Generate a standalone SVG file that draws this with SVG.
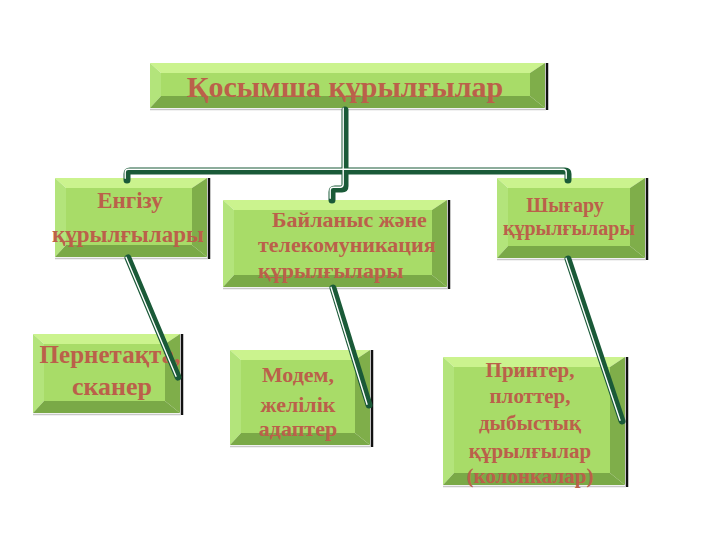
<svg xmlns="http://www.w3.org/2000/svg" width="720" height="540" viewBox="0 0 720 540">
<style>
.bt{fill:#cbf38e}.bl{fill:#b3e47b}.bf{fill:#a8dc68}.br{fill:#7fae4a}.bb{fill:#7aa947}
.sh{stroke:#111;stroke-width:2.5}
.gs{stroke:#c8c8c8;stroke-width:1.5}
text{font-family:"Liberation Serif","Times New Roman",serif;font-weight:bold;fill:#bb604a;font-size:22px}
.c{text-anchor:middle}
.cd{fill:none;stroke:#1a5a38;stroke-width:7;stroke-linecap:round;stroke-linejoin:round}
.cw{fill:none;stroke:#ffffff;stroke-width:1.4;stroke-linecap:round;stroke-linejoin:round}
</style>
<rect width="720" height="540" fill="#fff"/>
<g id="node-top">
<polygon class="bt" points="150,63 545,63 530,73 161,73"/>
<polygon class="bl" points="150,63 161,73 161,96 150,108"/>
<polygon class="br" points="545,63 545,108 530,96 530,73"/>
<polygon class="bb" points="150,108 161,96 530,96 545,108"/>
<rect class="bf" x="161" y="73" width="369" height="23"/>
<line class="sh" x1="547" y1="63" x2="547" y2="110"/>
<line class="gs" x1="150" y1="109.5" x2="546" y2="109.5"/>
<text class="c" x="345" y="97" style="font-size:30px">Қосымша құрылғылар</text>
</g>
<g id="node-input">
<polygon class="bt" points="55,178 207,178 192,188 66,188"/>
<polygon class="bl" points="55,178 66,188 66,245 55,257"/>
<polygon class="br" points="207,178 207,257 192,245 192,188"/>
<polygon class="bb" points="55,257 66,245 192,245 207,257"/>
<rect class="bf" x="66" y="188" width="126" height="57"/>
<line class="sh" x1="209" y1="178" x2="209" y2="259"/>
<line class="gs" x1="55" y1="258.5" x2="208" y2="258.5"/>
<text class="c" x="130" y="208" style="font-size:23px">Енгізу</text>
<text class="c" x="128" y="242" style="font-size:23px">құрылғылары</text>
</g>
<g id="node-comm">
<polygon class="bt" points="223,200 447,200 432,210 234,210"/>
<polygon class="bl" points="223,200 234,210 234,275 223,287"/>
<polygon class="br" points="447,200 447,287 432,275 432,210"/>
<polygon class="bb" points="223,287 234,275 432,275 447,287"/>
<rect class="bf" x="234" y="210" width="198" height="65"/>
<line class="sh" x1="449" y1="200" x2="449" y2="289"/>
<line class="gs" x1="223" y1="288.5" x2="448" y2="288.5"/>
<text x="272" y="227">Байланыс және</text>
<text x="258" y="252">телекомуникация</text>
<text x="258" y="278">құрылғылары</text>
</g>
<g id="node-output">
<polygon class="bt" points="497,178 645,178 630,188 508,188"/>
<polygon class="bl" points="497,178 508,188 508,246 497,258"/>
<polygon class="br" points="645,178 645,258 630,246 630,188"/>
<polygon class="bb" points="497,258 508,246 630,246 645,258"/>
<rect class="bf" x="508" y="188" width="122" height="58"/>
<line class="sh" x1="647" y1="178" x2="647" y2="260"/>
<line class="gs" x1="497" y1="259.5" x2="646" y2="259.5"/>
<text class="c" x="565" y="212" style="font-size:20px">Шығару</text>
<text class="c" x="569" y="235" style="font-size:20px">құрылғылары</text>
</g>
<g id="node-keyboard">
<polygon class="bt" points="33,334 180,334 165,344 44,344"/>
<polygon class="bl" points="33,334 44,344 44,401 33,413"/>
<polygon class="br" points="180,334 180,413 165,401 165,344"/>
<polygon class="bb" points="33,413 44,401 165,401 180,413"/>
<rect class="bf" x="44" y="344" width="121" height="57"/>
<line class="sh" x1="182" y1="334" x2="182" y2="415"/>
<line class="gs" x1="33" y1="414.5" x2="181" y2="414.5"/>
<text class="c" x="110" y="363" style="font-size:25px">Пернетақта,</text>
<text class="c" x="112" y="395" style="font-size:26px">сканер</text>
</g>
<g id="node-modem">
<polygon class="bt" points="230,350 370,350 355,360 241,360"/>
<polygon class="bl" points="230,350 241,360 241,433 230,445"/>
<polygon class="br" points="370,350 370,445 355,433 355,360"/>
<polygon class="bb" points="230,445 241,433 355,433 370,445"/>
<rect class="bf" x="241" y="360" width="114" height="73"/>
<line class="sh" x1="372" y1="350" x2="372" y2="447"/>
<line class="gs" x1="230" y1="446.5" x2="371" y2="446.5"/>
<text class="c" x="298" y="382">Модем,</text>
<text class="c" x="298" y="412">желілік</text>
<text class="c" x="298" y="436">адаптер</text>
</g>
<g id="node-printer">
<polygon class="bt" points="443,357 625,357 610,367 454,367"/>
<polygon class="bl" points="443,357 454,367 454,473 443,485"/>
<polygon class="br" points="625,357 625,485 610,473 610,367"/>
<polygon class="bb" points="443,485 454,473 610,473 625,485"/>
<rect class="bf" x="454" y="367" width="156" height="106"/>
<line class="sh" x1="627" y1="357" x2="627" y2="487"/>
<line class="gs" x1="443" y1="486.5" x2="626" y2="486.5"/>
<text class="c" x="530" y="377" style="font-size:21px">Принтер,</text>
<text class="c" x="530" y="403" style="font-size:21px">плоттер,</text>
<text class="c" x="530" y="430" style="font-size:21px">дыбыстық</text>
<text class="c" x="530" y="458" style="font-size:21px">құрылғылар</text>
<text class="c" x="530" y="483" style="font-size:21px">(колонкалар)</text>
</g>
<g id="connectors">
<path class="cd" d="M127,180 L127,174 Q127,171 130,171 L565,171 Q568,171 568,174 L568,180"/>
<path class="cd" d="M345,110 L345,186 Q345,189 342,189 L335,189 Q332,189 332,192 L332,200"/>
<path class="cd" d="M128,258 L178,377"/>
<path class="cd" d="M333,288 L369,405"/>
<path class="cd" d="M568,259 L622,421"/>
<g transform="translate(-1.8,-1.8)">
<path class="cw" d="M127,180 L127,174 Q127,171 130,171 L565,171 Q568,171 568,174 L568,180"/>
<path class="cw" d="M345,110 L345,186 Q345,189 342,189 L335,189 Q332,189 332,192 L332,200"/>
</g>
<g transform="translate(-2,-0.7)">
<path class="cw" d="M128,258 L178,377"/>
<path class="cw" d="M333,288 L369,405"/>
<path class="cw" d="M568,259 L622,421"/>
</g>
</g>
</svg>
